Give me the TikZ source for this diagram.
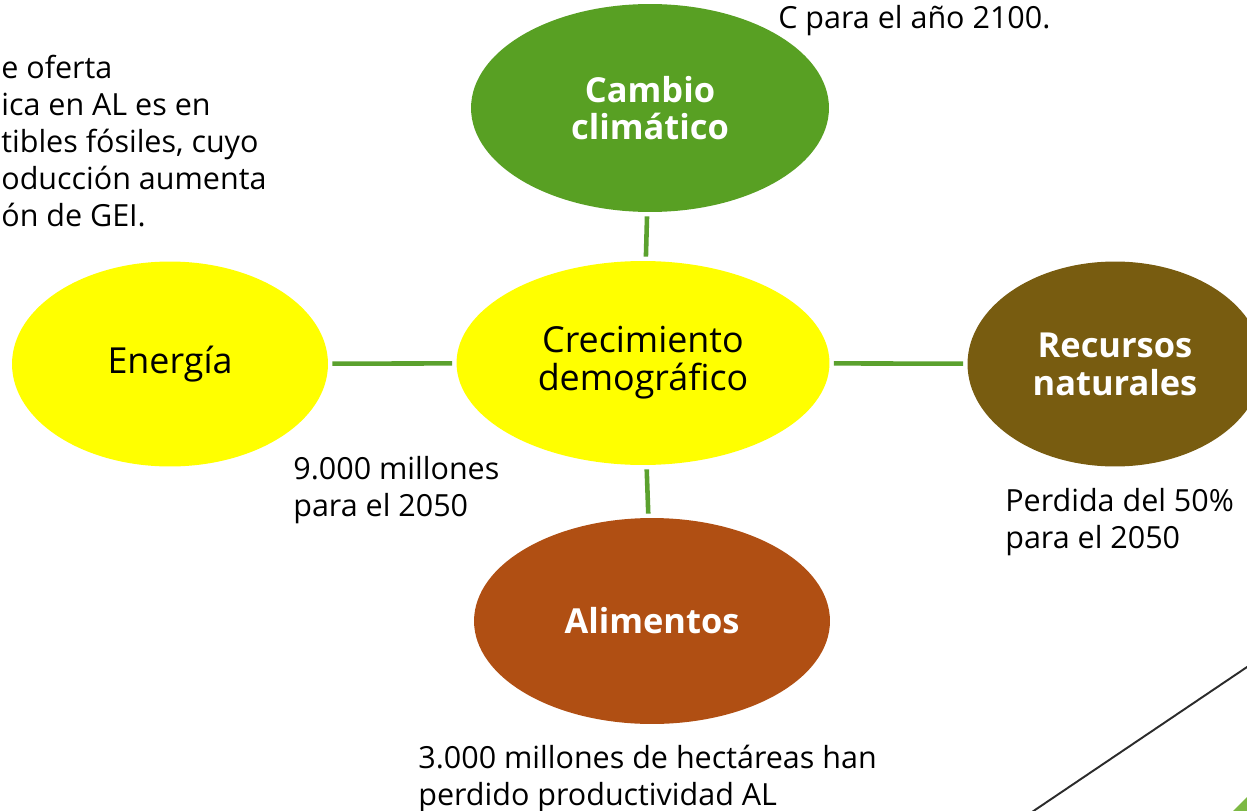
\documentclass[tikz,border=0pt]{standalone}
\usepackage{fontspec}
\setmainfont{Open Sans}
\usetikzlibrary{shapes.geometric}
\definecolor{ccgreen}{HTML}{58A023}
\definecolor{lngreen}{HTML}{5BA12E}
\definecolor{cyellow}{HTML}{FFFF00}
\definecolor{cbrown}{HTML}{785C10}
\definecolor{corange}{HTML}{B04F13}
\definecolor{triGreen}{HTML}{7DB944}
\definecolor{deco}{HTML}{2B2B2B}
\tikzset{
  blob/.style={ellipse, inner sep=0pt, outer sep=0pt, align=center},
  bigtxt/.style={font=\fontsize{20.4pt}{21.5pt}\selectfont, text=black},
  boldtxt/.style={font=\fontsize{19.6pt}{21.5pt}\selectfont\bfseries, text=white},
  conn/.style={draw=lngreen, line width=2.6pt, shorten <=2.5pt, shorten >=2.5pt},
  note/.style={font=\fontsize{17.35pt}{21pt}\selectfont, align=left, inner sep=0pt, anchor=base west, text=black},
}
\begin{document}
\begin{tikzpicture}[x=0.02cm, y=-0.02cm]
\useasboundingbox (0,0) rectangle (1247,811);
\clip (0,0) rectangle (1247,811);

% decoration (theme)
\draw[deco, line width=1.1pt] (1032,812) -- (1250,665);
\fill[triGreen] (1249,795) -- (1249,813) -- (1231,813) -- cycle;

% ellipses
\node[blob, fill=ccgreen, minimum width=7.16cm, minimum height=4.16cm, boldtxt] (cc) at (650,108) {Cambio\\clim\'atico};
\node[blob, fill=cyellow, minimum width=7.46cm, minimum height=4.08cm, bigtxt] (cd) at (643,363) {Crecimiento\\demogr\'afico};
\node[blob, fill=cyellow, minimum width=6.32cm, minimum height=4.1cm, bigtxt] (en) at (170,364) {Energ\'ia};
\node[blob, fill=cbrown, minimum width=5.9cm, minimum height=4.1cm, boldtxt] (rn) at (1115,364) {Recursos\\naturales};
\node[blob, fill=corange, minimum width=7.12cm, minimum height=4.12cm, boldtxt] (al) at (652,621) {Alimentos};

% connectors
\draw[conn] (cc) -- (cd);
\draw[conn] (cd) -- (al);
\draw[conn] (en) -- (cd);
\draw[conn] (cd) -- (rn);

% notes (anchor = baseline of the last line)
\node[note] (t1) at (1,226) {e oferta\\ica en AL es en\\tibles f\'osiles, cuyo\\oducci\'on aumenta\\\'on de GEI.};
\node[note] (t2) at (778,29) {C para el a\~no 2100.};
\node[note] (t3) at (293,516) {9.000 millones\\para el 2050};
\node[note] (t4) at (1005,548) {Perdida del 50\%\\para el 2050};
\node[note] (t5) at (418,805) {3.000 millones de hect\'areas han\\perdido productividad AL};
\end{tikzpicture}
\end{document}
